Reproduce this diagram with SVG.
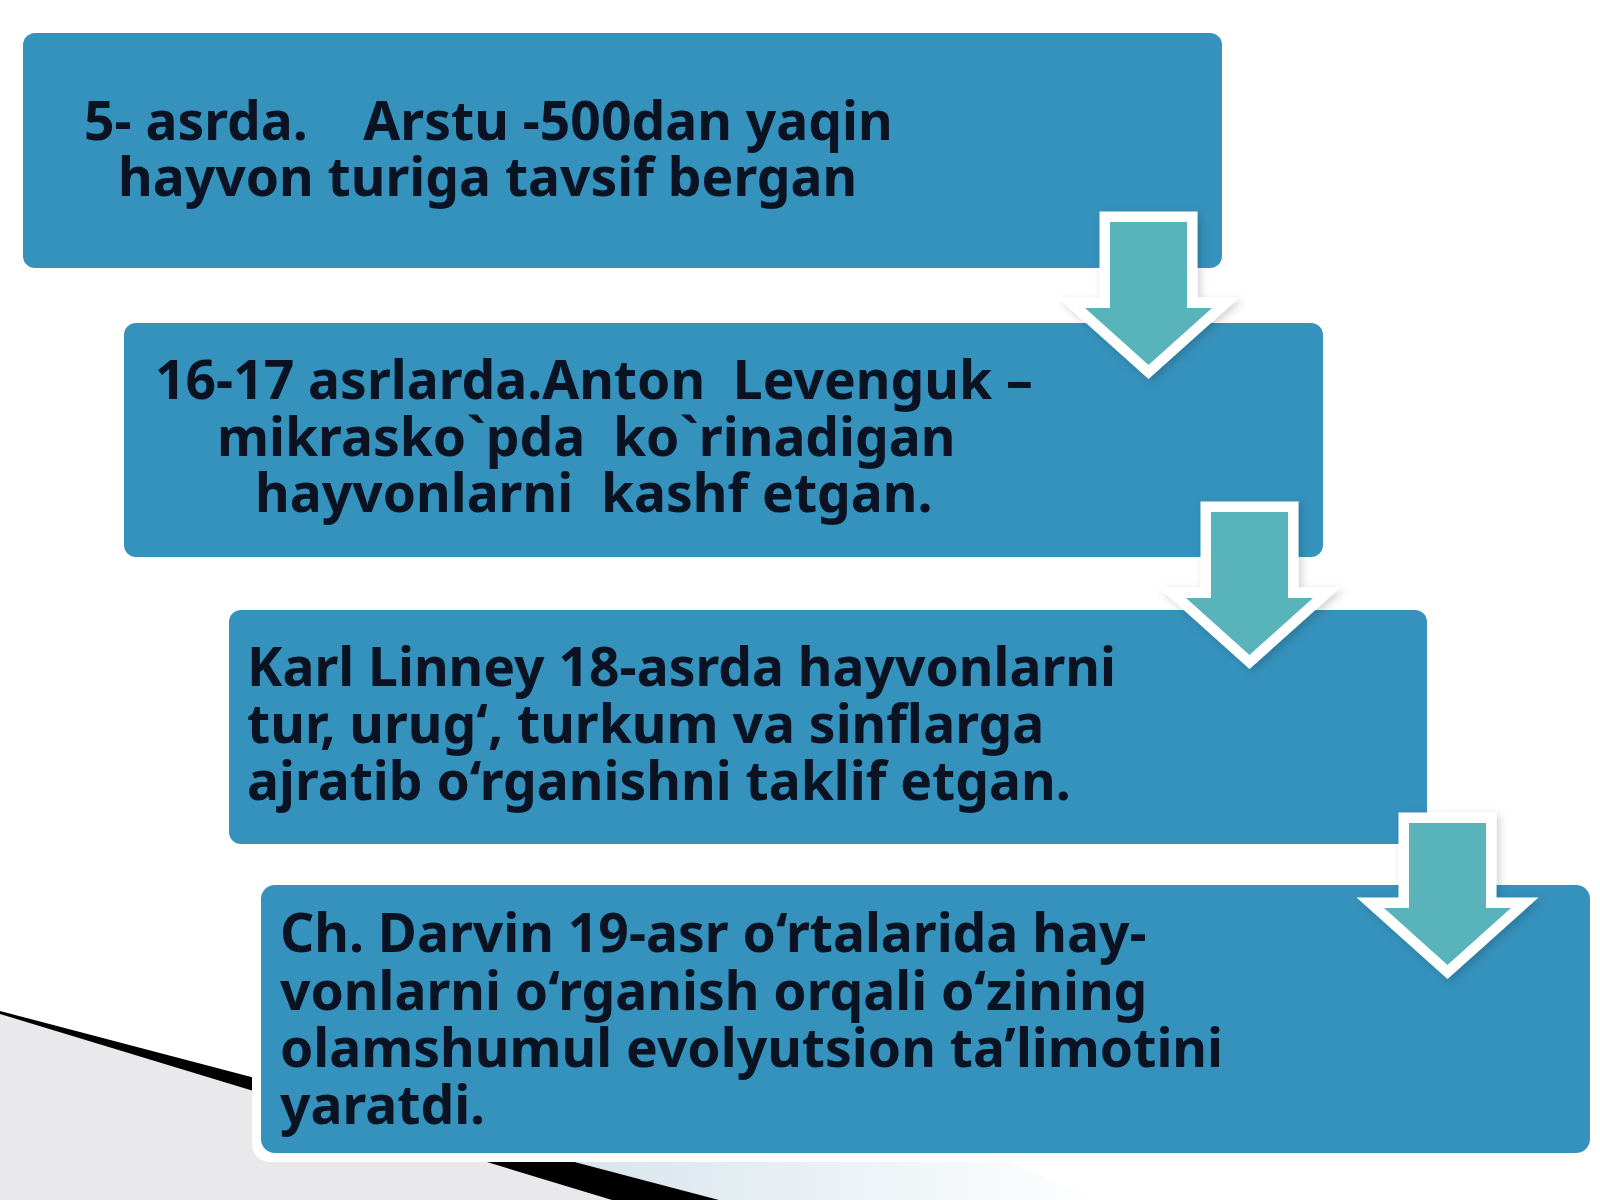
<svg xmlns="http://www.w3.org/2000/svg" width="1600" height="1200" viewBox="0 0 1600 1200">
  <defs>
    <style>
      .box { fill: #3592BC; }
      .halo { fill: #ffffff; }
      .arrow { fill: #58B4BA; stroke: #ffffff; stroke-width: 21; stroke-linejoin: miter; paint-order: stroke fill; }
      .txt { font-family: "Noto Sans", "Open Sans", "DejaVu Sans", sans-serif; font-weight: bold; font-size: 53.4px; fill: #0B1222; }
    </style>
    <linearGradient id="paleBlue" x1="0" y1="0" x2="1" y2="0">
      <stop offset="0" stop-color="#D6E4EC"/>
      <stop offset="1" stop-color="#FFFFFF"/>
    </linearGradient>
    <filter id="shadow" x="-10%" y="-10%" width="130%" height="130%">
      <feDropShadow dx="3" dy="3" stdDeviation="4" flood-color="#000000" flood-opacity="0.18"/>
    </filter>
  </defs>

  <rect x="0" y="0" width="1600" height="1200" fill="#ffffff"/>

  <g id="background">
    <polygon points="0,1014 612,1200 0,1200" fill="#E9E9EB"/>
    <polygon points="719,1200 560,1158 1000,1158 1100,1200" fill="url(#paleBlue)"/>
    <polygon points="0,1011 719,1200 612,1200 0,1014" fill="#000000"/>
  </g>

  <g id="node1">
    <rect class="box" x="23" y="33" width="1199" height="235" rx="12"/>
    <text class="txt" xml:space="preserve"><tspan x="84" y="140">5- asrda.    Arstu -500dan yaqin</tspan><tspan x="118" y="196">hayvon turiga tavsif bergan</tspan></text>
  </g>

  <g id="node2">
    <rect class="box" x="124" y="323" width="1199" height="234" rx="12"/>
    <text class="txt" xml:space="preserve"><tspan x="155" y="399">16-17 asrlarda.Anton  Levenguk –</tspan><tspan x="217" y="456">mikrasko`pda  ko`rinadigan</tspan><tspan x="255" y="512">hayvonlarni  kashf etgan.</tspan></text>
  </g>

  <g id="node3">
    <rect class="box" x="229" y="610" width="1198" height="234" rx="12"/>
    <text class="txt"><tspan x="247" y="686">Karl Linney 18-asrda hayvonlarni</tspan><tspan x="247" y="743">tur, urug‘, turkum va sinflarga</tspan><tspan x="247" y="800">ajratib o‘rganishni taklif etgan.</tspan></text>
  </g>

  <g id="node4">
    <rect class="halo" x="252" y="876" width="1347" height="286" rx="18"/>
    <rect class="box" x="261" y="885" width="1329" height="268" rx="14"/>
    <text class="txt"><tspan x="280" y="952">Ch. Darvin 19-asr o‘rtalarida hay-</tspan><tspan x="280" y="1010">vonlarni o‘rganish orqali o‘zining</tspan><tspan x="280" y="1067">olamshumul evolyutsion ta’limotini</tspan><tspan x="280" y="1124">yaratdi.</tspan></text>
  </g>

  <g id="connectors" filter="url(#shadow)">
    <polygon class="arrow" points="1110,222 1187,222 1187,308 1212,308 1148.5,365 1085,308 1110,308"/>
    <polygon class="arrow" points="1211,512 1288,512 1288,598 1313,598 1249.5,655 1186,598 1211,598"/>
    <polygon class="arrow" points="1409,823 1486,823 1486,908 1511,908 1447.5,965 1384,908 1409,908"/>
  </g>
</svg>
